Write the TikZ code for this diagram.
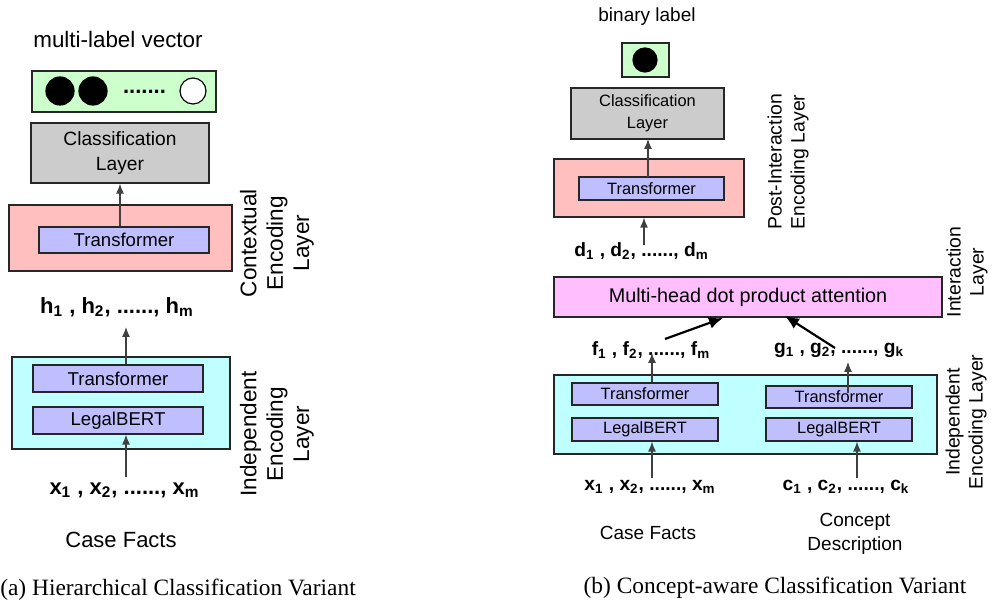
\documentclass[tikz,border=0pt]{standalone}
\usepackage{fontspec}
\setmainfont{Liberation Sans}
\newfontfamily\capfont{Liberation Serif}
\usetikzlibrary{arrows.meta}

\definecolor{outgreen}{RGB}{204,255,204}
\definecolor{clsgray}{RGB}{204,204,204}
\definecolor{ctxpink}{RGB}{255,191,191}
\definecolor{trblue}{RGB}{191,191,255}
\definecolor{indcyan}{RGB}{191,255,255}
\definecolor{attmag}{RGB}{255,191,255}

\newcommand{\fsz}[2]{\fontsize{#1}{#2}\selectfont}

\tikzset{
  box/.style={draw=black!85, line width=0.6pt, inner sep=0pt, align=center},
  lbl/.style={inner sep=0pt, align=center},
  seq/.style={inner sep=0pt, font=\fsz{11}{13}\bfseries},
  seqb/.style={inner sep=0pt, font=\fsz{9.6}{12}\bfseries},
  arr/.style={draw=black!75, line width=0.6pt, -{Latex[length=5pt,width=4pt]}},
  bigarr/.style={draw=black, line width=1.1pt, -{Latex[length=7pt,width=6pt]}},
  dot/.style={circle, draw=black, line width=0.6pt, inner sep=0pt, minimum size=14pt},
}

\begin{document}
\begin{tikzpicture}[x=0.5pt,y=-0.5pt]
\useasboundingbox (0,0) rectangle (992,603);

% (a) hierarchical variant
\node[lbl, font=\fsz{11.2}{13}] (mlv) at (118,40) {multi-label vector};
\node[box, fill=outgreen, minimum width=92pt, minimum height=20.5pt] (outa) at (124,91.5) {};
\node[dot, fill=black] (o1) at (60,91) {};
\node[dot, fill=black] (o2) at (93,91) {};
\node[lbl, font=\fsz{11}{13}\bfseries] (odots) at (144.5,92) {.......};
\node[dot, fill=white, minimum size=13pt] (o3) at (193,91) {};
\node[box, fill=clsgray, minimum width=89pt, minimum height=30pt, font=\fsz{9.6}{12.5}] (clsa) at (120,153) {Classification\\Layer};
\node[box, fill=ctxpink, minimum width=111.5pt, minimum height=33pt] (ctx) at (120.5,238) {};
\node[box, fill=trblue, minimum width=85pt, minimum height=13pt, font=\fsz{9.3}{11}] (tra) at (124,240) {Transformer};
\node[seq] (hlab) at (117,307) {h\textsubscript{1} , h\textsubscript{2}, ......, h\textsubscript{m}};
\node[box, fill=indcyan, minimum width=109pt, minimum height=46pt] (inda) at (121,403) {};
\node[box, fill=trblue, minimum width=85pt, minimum height=13.5pt, font=\fsz{9.3}{11}] (trb) at (118,378.5) {Transformer};
\node[box, fill=trblue, minimum width=85pt, minimum height=13.5pt, font=\fsz{9.3}{11}] (lba) at (118,420.5) {LegalBERT};
\node[seq] (xlab) at (124.5,490) {x\textsubscript{1} , x\textsubscript{2}, ......, x\textsubscript{m}};
\node[lbl, font=\fsz{11}{13}] (cfa) at (121,540) {Case Facts};
\node[lbl, rotate=90, font=\fsz{11.3}{13.2}] (ctxname) at (277,243) {Contextual\\Encoding\\Layer};
\node[lbl, rotate=90, font=\fsz{11.3}{13.2}] (indname) at (277,434) {Independent\\Encoding\\Layer};
\node[lbl, font=\capfont\fsz{11.7}{14}] (capa) at (178,590) {(a) Hierarchical Classification Variant};

\coordinate (hin) at (126,327);
\coordinate (xout) at (126,477);
\draw[arr] (tra.north -| clsa.south) -- (clsa.south);
\draw[arr] (trb.north -| hin) -- (hin);
\draw[arr] (xout) -- (xout |- lba.south);

% (b) concept-aware variant
\node[lbl, font=\fsz{9.5}{11}] (binl) at (647,17) {binary label};
\node[box, fill=outgreen, minimum width=23.5pt, minimum height=17pt] (outb) at (645.5,60) {};
\node[dot, fill=black, minimum size=12pt] (o4) at (645,60) {};
\node[box, fill=clsgray, minimum width=76.5pt, minimum height=25.5pt, font=\fsz{8.2}{11}] (clsb) at (647.5,113.5) {Classification\\Layer};
\node[box, fill=ctxpink, minimum width=95pt, minimum height=29pt] (post) at (649,188) {};
\node[box, fill=trblue, minimum width=72.5pt, minimum height=11.5pt, font=\fsz{8.2}{10}] (trc) at (651.5,188.5) {Transformer};
\node[seqb] (dlab) at (641.5,251) {d\textsubscript{1} , d\textsubscript{2}, ......, d\textsubscript{m}};
\node[box, fill=attmag, minimum width=194pt, minimum height=20pt, font=\fsz{9.9}{12}] (att) at (748,297) {Multi-head dot product attention};
\node[seqb] (flab) at (651,350) {f\textsubscript{1} , f\textsubscript{2}, ......, f\textsubscript{m}};
\node[seqb] (glab) at (839,350) {g\textsubscript{1} , g\textsubscript{2}, ......, g\textsubscript{k}};
\node[box, fill=indcyan, minimum width=191.5pt, minimum height=39.5pt] (indb) at (745.5,414.5) {};
\node[box, fill=trblue, minimum width=73pt, minimum height=11pt, font=\fsz{8.2}{10}] (trd) at (645,394) {Transformer};
\node[box, fill=trblue, minimum width=73pt, minimum height=11.5pt, font=\fsz{8.2}{10}] (lbb) at (645,429.5) {LegalBERT};
\node[box, fill=trblue, minimum width=73pt, minimum height=11pt, font=\fsz{8.2}{10}] (tre) at (839,397) {Transformer};
\node[box, fill=trblue, minimum width=73pt, minimum height=11.5pt, font=\fsz{8.2}{10}] (lbc) at (839,429.5) {LegalBERT};
\node[seqb] (xlabb) at (650,487) {x\textsubscript{1} , x\textsubscript{2}, ......, x\textsubscript{m}};
\node[seqb] (clab) at (846,487) {c\textsubscript{1} , c\textsubscript{2}, ......, c\textsubscript{k}};
\node[lbl, font=\fsz{9.5}{11}] (cfb) at (648,533) {Case Facts};
\node[lbl, font=\fsz{9.5}{12}] (cdesc) at (855,534) {Concept\\Description};
\node[lbl, rotate=90, font=\fsz{9.7}{11.5}] (postname) at (788,162) {Post-Interaction\\Encoding Layer};
\node[lbl, rotate=90, font=\fsz{9.7}{11.5}] (attname) at (967,272) {Interaction\\Layer};
\node[lbl, rotate=90, font=\fsz{9.7}{11.5}] (indnameb) at (966,422) {Independent\\Encoding Layer};
\node[lbl, font=\capfont\fsz{11.7}{14}] (capb) at (775,588) {(b) Concept-aware Classification Variant};

\coordinate (dout) at (644,245);
\coordinate (fin) at (652,353);
\coordinate (fout) at (665,339);
\coordinate (fatt) at (723,318);
\coordinate (gin) at (848,362);
\coordinate (gout) at (835,348);
\coordinate (gatt) at (785,316);
\coordinate (xoutb) at (652,478);
\coordinate (cout) at (857,478);
\draw[arr] (648,177) -- (648,139);
\draw[arr] (dout) -- (dout |- post.south);
\draw[arr] (trd.north -| fin) -- (fin);
\draw[arr] (gin |- 0,393) -- (gin);
\draw[arr] (xoutb) -- (xoutb |- lbb.south);
\draw[arr] (cout) -- (cout |- lbc.south);
\draw[bigarr] (fout) -- (fatt);
\draw[bigarr] (gout) -- (gatt);
\end{tikzpicture}
\end{document}
